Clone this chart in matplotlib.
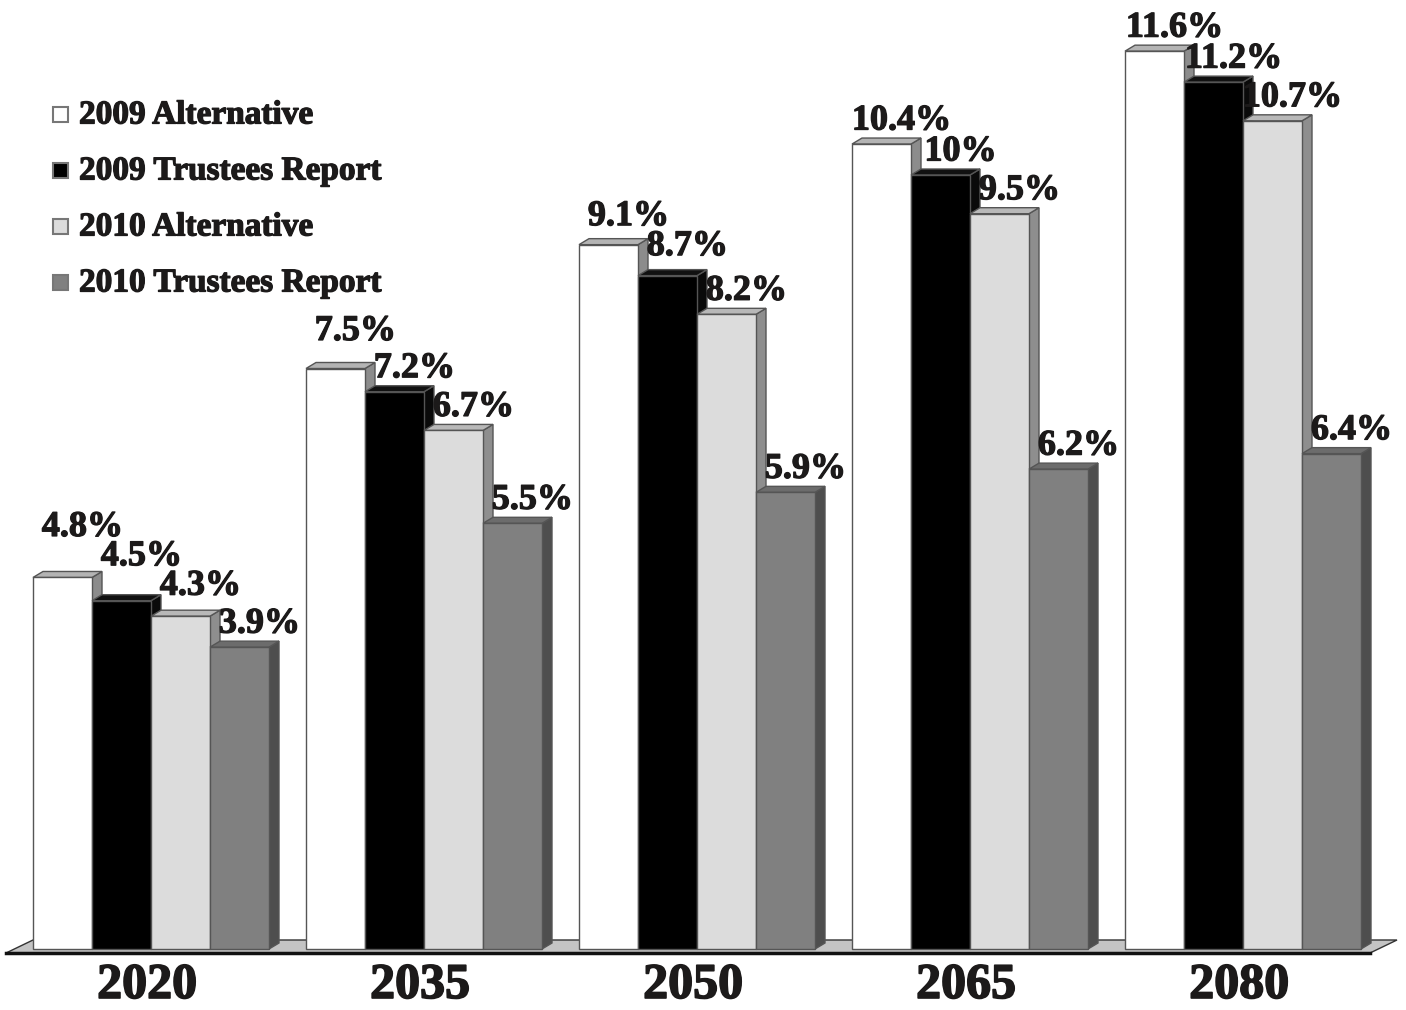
import matplotlib.pyplot as plt
import matplotlib.patheffects as pe
from matplotlib.patches import Polygon

# projected cost rate (% of payroll) by year
years = ['2020', '2035', '2050', '2065', '2080']
alt_2009 = [4.8, 7.5, 9.1, 10.4, 11.6]
trustees_2009 = [4.5, 7.2, 8.7, 10.0, 11.2]
alt_2010 = [4.3, 6.7, 8.2, 9.5, 10.7]
trustees_2010 = [3.9, 5.5, 5.9, 6.2, 6.4]
series_names = ['2009 Alternative', '2009 Trustees Report',
                '2010 Alternative', '2010 Trustees Report']
series = [alt_2009, trustees_2009, alt_2010, trustees_2010]

# front, top, side colours for each series
faces = [('#ffffff', '#b4b4b4', '#8c8c8c'),
         ('#000000', '#111111', '#0a0a0a'),
         ('#dcdcdc', '#b8b8b8', '#8e8e8e'),
         ('#808080', '#6c6c6c', '#4e4e4e')]
edge = '#555555'
txt = '#1c1a1a'
font = 'Liberation Serif'
heavy = [pe.withStroke(linewidth=0.9, foreground=txt)]

W, H = 1406, 1010
fig = plt.figure(figsize=(W / 100, H / 100), dpi=100)
ax = fig.add_axes([0, 0, 1, 1])

# axis scale: one x unit = one year group, y in percent
px_x = 273.0           # pixels per group
px_y = 77.4            # pixels per percentage point
x0_px, y0_px = 33, 949
ax.set_xlim(-x0_px / px_x, (W - x0_px) / px_x)
ax.set_ylim(-(H - y0_px) / px_y, y0_px / px_y)
ax.set_axis_off()

bw = 59 / px_x          # bar width
dx, dy = 10 / px_x, 6 / px_y   # depth offset

# floor
fl_front, fl_back = -4 / px_y, 9 / px_y
floor = Polygon([(-27 / px_x, fl_front), (1337 / px_x, fl_front),
                 (1364 / px_x, fl_back), (0, fl_back)],
                closed=True, facecolor='#c4c4c4', edgecolor='#333333', lw=1, zorder=1)
ax.add_patch(floor)
ax.plot([-27 / px_x, 1337 / px_x], [fl_front, fl_front], color='#111111', lw=2.5, zorder=1)

# lift (px) of a few value labels that sit higher above their bars
label_lift = {(0, 0): 27, (0, 1): 21, (0, 2): 7, (1, 0): 14, (2, 0): 5, (2, 1): 6}

z = 2
for g, yr in enumerate(years):
    for s, vals in enumerate(series):
        v = vals[g]
        x = g + s * bw
        front_c, top_c, side_c = faces[s]
        side = Polygon([(x + bw, 0), (x + bw + dx, dy), (x + bw + dx, v + dy), (x + bw, v)],
                       closed=True, facecolor=side_c, edgecolor=edge, lw=1, zorder=z)
        top = Polygon([(x, v), (x + dx, v + dy), (x + bw + dx, v + dy), (x + bw, v)],
                      closed=True, facecolor=top_c, edgecolor=edge, lw=1, zorder=z)
        front = Polygon([(x, 0), (x + bw, 0), (x + bw, v), (x, v)],
                        closed=True, facecolor=front_c, edgecolor=edge, lw=1, zorder=z + 1)
        ax.add_patch(side)
        ax.add_patch(top)
        ax.add_patch(front)
        z += 2
        lift = (23 + label_lift.get((g, s), 0)) / px_y
        ax.text(x + bw / 2 + 20 / px_x, v + lift, f'{v:g}%', ha='center', va='center',
                fontsize=26, fontweight='bold', family=font, color=txt, zorder=100,
                path_effects=heavy)
    ax.text(g + 2 * bw - 4 / px_x, -(986 - y0_px) / px_y, yr, ha='center', va='center',
            fontsize=36, fontweight='bold', family=font, color=txt,
            path_effects=[pe.withStroke(linewidth=1.2, foreground=txt)])

# legend
for i, name in enumerate(series_names):
    cy = 115 + i * 56
    fig.patches.append(plt.Rectangle((53 / W, 1 - (cy + 7) / H), 15 / W, 15 / H,
                                     transform=fig.transFigure, facecolor=faces[i][0],
                                     edgecolor='#777777', lw=1.5))
    fig.text(79 / W, 1 - cy / H, name, ha='left', va='center', fontsize=24,
             fontweight='bold', family=font, color=txt, path_effects=heavy)

fig.savefig('out.png', dpi=100)
